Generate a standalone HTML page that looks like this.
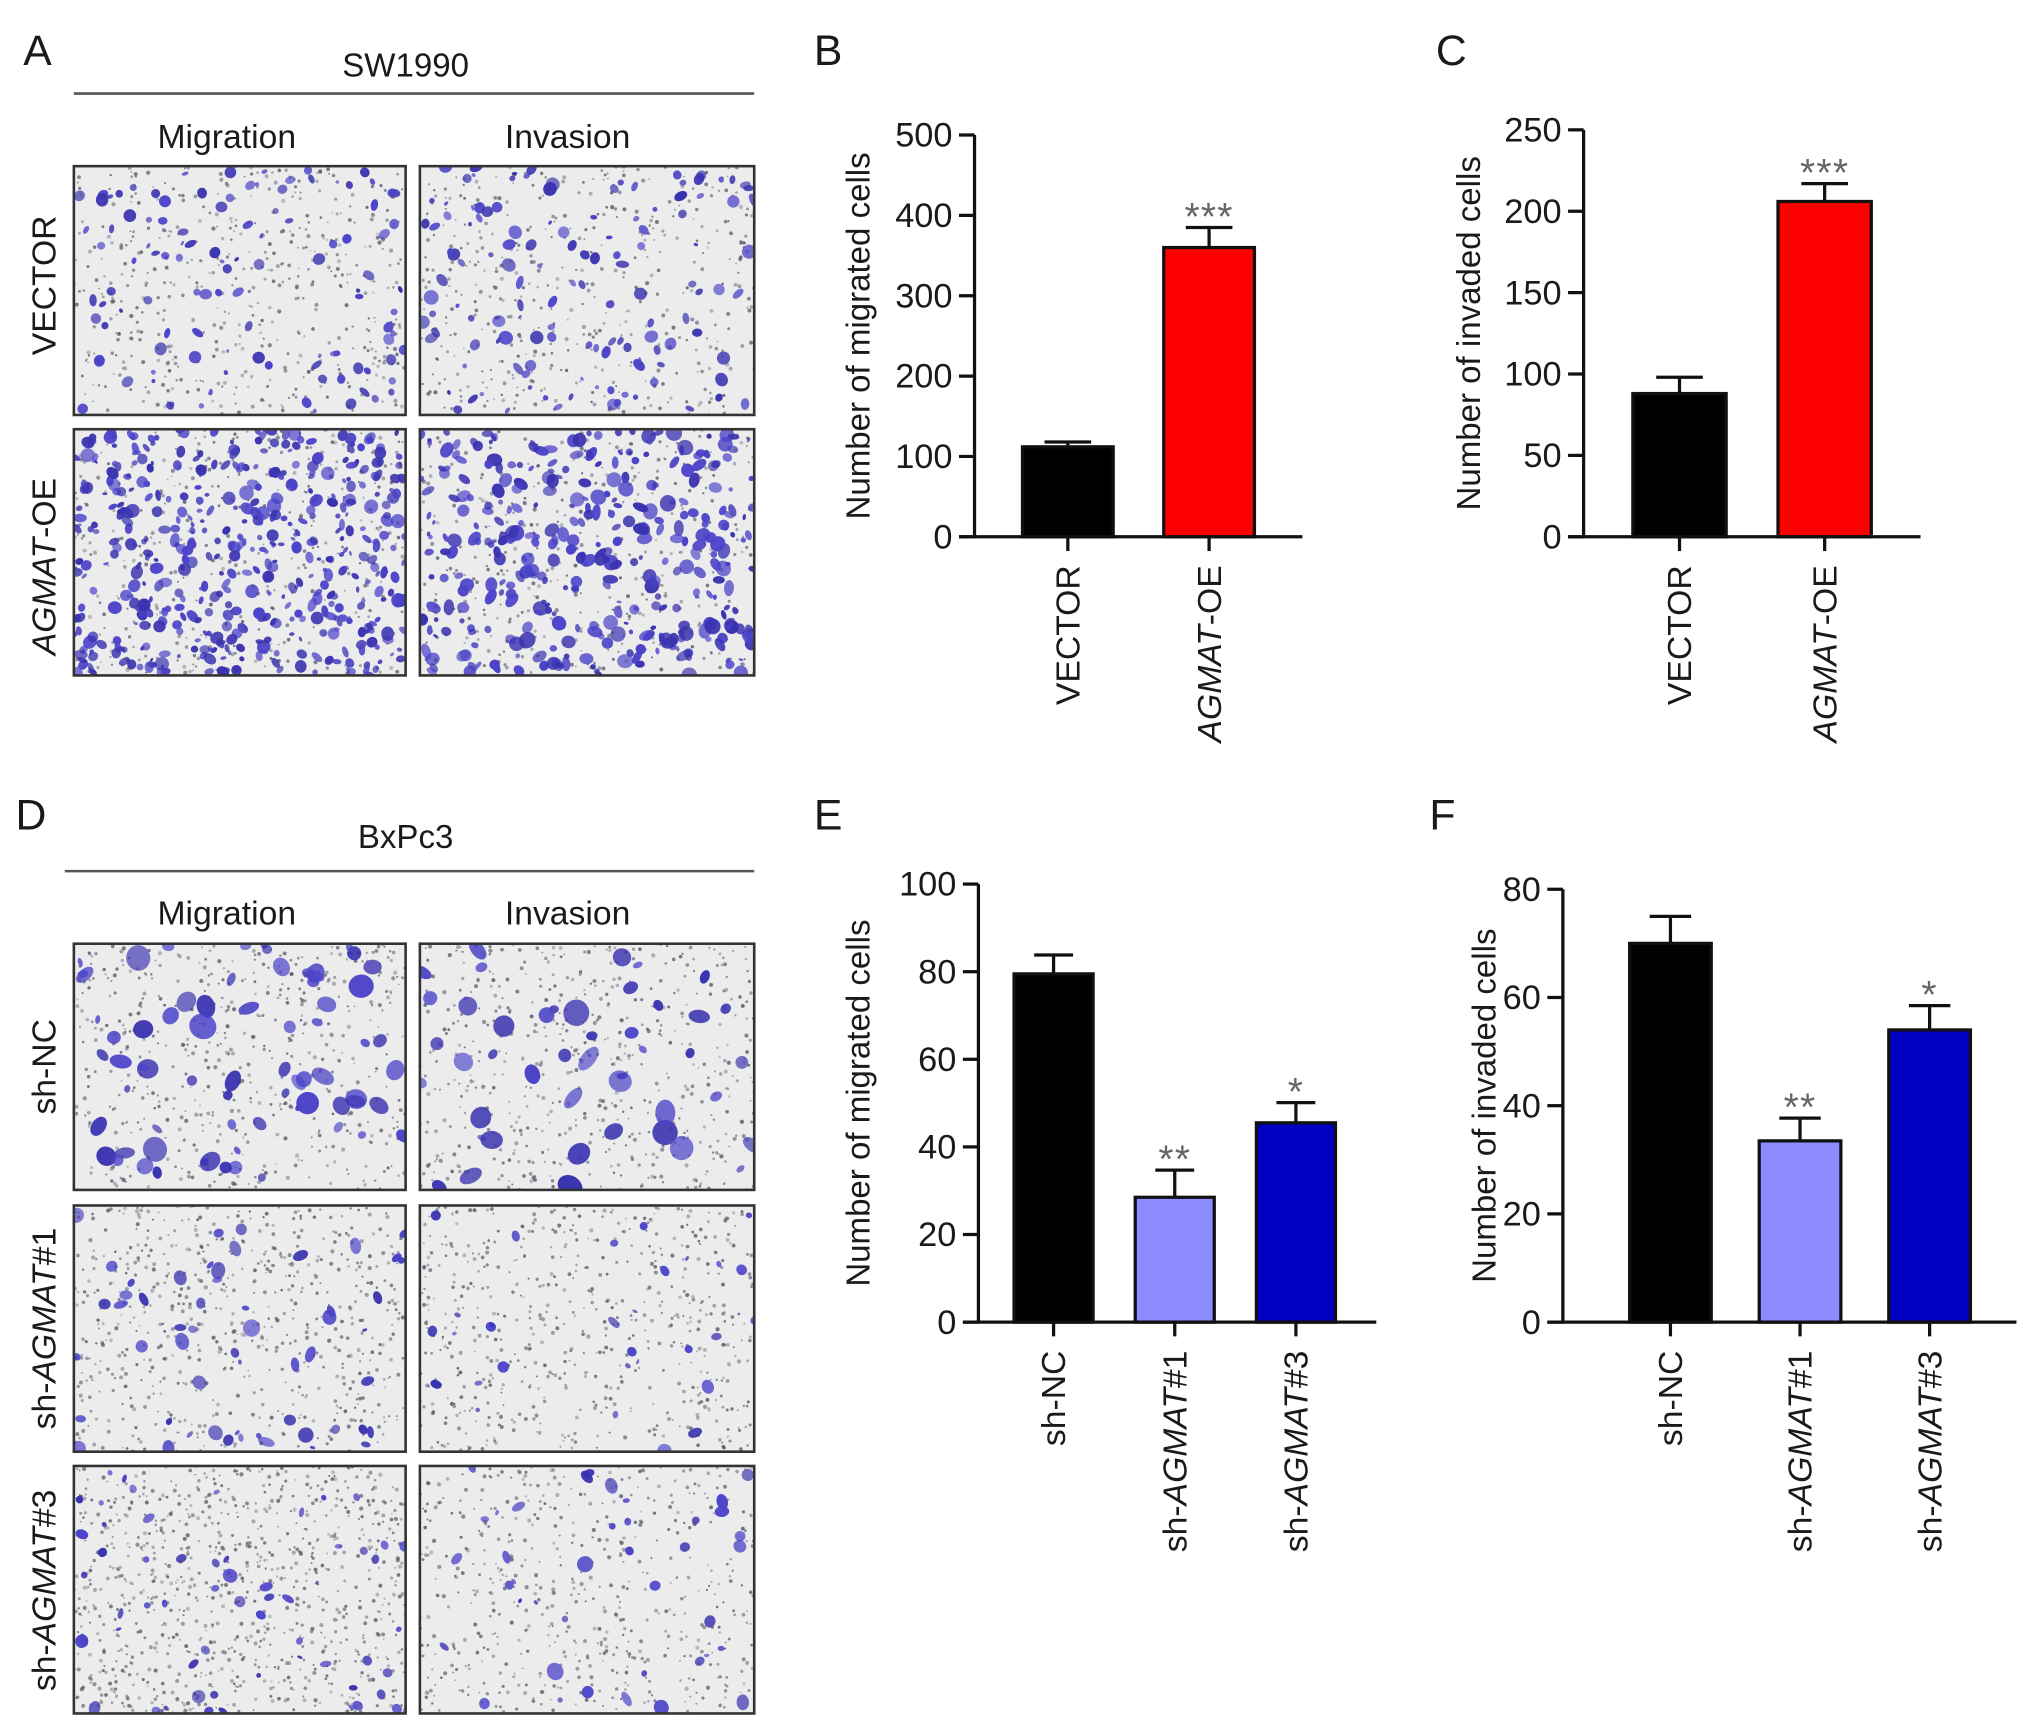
<!DOCTYPE html>
<html><head><meta charset="utf-8"><style>
html,body{margin:0;padding:0;background:#fff}
svg{display:block}
text{font-family:"Liberation Sans",Arial,sans-serif;fill:#1a1a1a}
</style></head><body>
<svg id="fig" width="2032" height="1728" viewBox="0 0 1568 1333" xmlns="http://www.w3.org/2000/svg">
<rect width="1568" height="1333" fill="#fff"/>
<g>
<text x="18" y="50" font-size="33">A</text>
<text x="313" y="59" font-size="25.5" text-anchor="middle">SW1990</text>
<line x1="57" y1="72" x2="582" y2="72" stroke="#555" stroke-width="2"/>
<text x="175" y="114" font-size="26" text-anchor="middle">Migration</text>
<text x="438" y="114" font-size="26" text-anchor="middle">Invasion</text>
<text transform="translate(43,220) rotate(-90)" font-size="26" text-anchor="middle">VECTOR</text>
<text transform="translate(43,437) rotate(-90)" font-size="26" text-anchor="middle"><tspan font-style="italic">AGMAT</tspan>-OE</text>
</g>
<g>
<text x="12" y="640" font-size="33">D</text>
<text x="313" y="654" font-size="25.5" text-anchor="middle">BxPc3</text>
<line x1="50" y1="672" x2="582" y2="672" stroke="#555" stroke-width="2"/>
<text x="175" y="713" font-size="26" text-anchor="middle">Migration</text>
<text x="438" y="713" font-size="26" text-anchor="middle">Invasion</text>
<text transform="translate(43,823) rotate(-90)" font-size="26" text-anchor="middle">sh-NC</text>
<text transform="translate(43,1025) rotate(-90)" font-size="26" text-anchor="middle">sh-<tspan font-style="italic">AGMAT</tspan>#1</text>
<text transform="translate(43,1227) rotate(-90)" font-size="26" text-anchor="middle">sh-<tspan font-style="italic">AGMAT</tspan>#3</text>
</g>
<g id="micro"></g>
<g id="charts"></g>
</svg>
<script>
// ----- chart data -----
const catsB = ["VECTOR", "AGMAT-OE"];
const valsB = [112, 360];
const errsB = [6, 25];
const sigB = ["", "***"];
const ticksB = [0, 100, 200, 300, 400, 500];

const catsC = ["VECTOR", "AGMAT-OE"];
const valsC = [88, 206];
const errsC = [10, 11];
const sigC = ["", "***"];
const ticksC = [0, 50, 100, 150, 200, 250];

const catsE = ["sh-NC", "sh-AGMAT#1", "sh-AGMAT#3"];
const valsE = [79.5, 28.5, 45.5];
const errsE = [4.3, 6.2, 4.6];
const sigE = ["", "**", "*"];
const ticksE = [0, 20, 40, 60, 80, 100];

const catsF = ["sh-NC", "sh-AGMAT#1", "sh-AGMAT#3"];
const valsF = [70, 33.5, 54];
const errsF = [5, 4.2, 4.5];
const sigF = ["", "**", "*"];
const ticksF = [0, 20, 40, 60, 80];

const NS = "http://www.w3.org/2000/svg";
function mk(tag, attrs, parent) {
  const e = document.createElementNS(NS, tag);
  for (const k in attrs) e.setAttribute(k, attrs[k]);
  parent.appendChild(e);
  return e;
}
function labelContent(t, name) {
  const parts = name.split("AGMAT");
  t.appendChild(document.createTextNode(parts[0]));
  if (parts.length > 1) {
    const ts = document.createElementNS(NS, "tspan");
    ts.setAttribute("font-style", "italic");
    ts.textContent = "AGMAT";
    t.appendChild(ts);
    t.appendChild(document.createTextNode(parts[1]));
  }
}

function drawChart(cfg) {
  const root = document.getElementById("charts");
  const g = mk("g", {}, root);
  
  
  const ymax = cfg.ticks[cfg.ticks.length - 1];
  const y = v => cfg.y0 - (v / ymax) * (cfg.y0 - cfg.yTop);
  const pl = mk("text", {x: cfg.labelX, y: cfg.labelY, "font-size": 33}, g);
  pl.textContent = cfg.letter;
  
  
  const yt = mk("text", {transform: `translate(${cfg.titleX},${(cfg.y0 + cfg.yTop) / 2}) rotate(-90)`, "font-size": 25.5, "text-anchor": "middle"}, g);
  yt.textContent = cfg.title;
  
  
  cfg.cats.forEach((c, i) => {
    const cx = cfg.centers0 + i * cfg.step;
    const top = y(cfg.vals[i]);
    const et = y(cfg.vals[i] + cfg.errs[i]);
    const eb = mk("line", {x1: cx, y1: top, x2: cx, y2: et, stroke: "#111", "stroke-width": 2.5}, g);
    
    
    const ec = mk("line", {x1: cx - cfg.capW, y1: et, x2: cx + cfg.capW, y2: et, stroke: "#111", "stroke-width": 2.5}, g);
    
    
    const r = mk("rect", {x: cx - cfg.barW / 2, y: top, width: cfg.barW, height: cfg.y0 - top, fill: cfg.colors[i], stroke: "#111", "stroke-width": 2.5}, g);
    
    
    if (cfg.sig[i]) {
      const s = mk("text", {x: cx, y: et + 2, "font-size": 30, "text-anchor": "middle", style: "fill:#666;letter-spacing:1px"}, g);
      s.textContent = cfg.sig[i];
      
      
    }
    const xt = mk("line", {x1: cx, y1: cfg.y0, x2: cx, y2: cfg.y0 + 11, stroke: "#111", "stroke-width": 2.5}, g);
    
    
    const lb = mk("text", {transform: `translate(${cx + 9},${cfg.y0 + 22}) rotate(-90)`, "font-size": 26, "text-anchor": "end"}, g);
    labelContent(lb, c);
    
    
  });
  const ya = mk("line", {x1: cfg.axX, y1: cfg.yTop, x2: cfg.axX, y2: cfg.y0, stroke: "#111", "stroke-width": 2.5}, g);
  
  
  const xa = mk("line", {x1: cfg.axX - 12, y1: cfg.y0, x2: cfg.xEnd, y2: cfg.y0, stroke: "#111", "stroke-width": 2.5}, g);
  
  
  cfg.ticks.forEach(t => {
    const yy = y(t);
    const tk = mk("line", {x1: cfg.axX - 12, y1: yy, x2: cfg.axX, y2: yy, stroke: "#111", "stroke-width": 2.5}, g);
    
    
    const tl = mk("text", {x: cfg.axX - 17, y: yy + 9, "font-size": 26.5, "text-anchor": "end"}, g);
    tl.textContent = t;
    
    
  });
}

drawChart({name: "chart-b-migration-sw1990", letter: "B", labelX: 628, labelY: 50, title: "Number of migrated cells", titleX: 671,
  cats: catsB, vals: valsB, errs: errsB, sig: sigB, ticks: ticksB, axX: 752, yTop: 104, y0: 414, xEnd: 1005,
  centers0: 824, step: 109, barW: 70, capW: 18, colors: ["#000", "#ff0000"]});
drawChart({name: "chart-c-invasion-sw1990", letter: "C", labelX: 1108, labelY: 50, title: "Number of invaded cells", titleX: 1142,
  cats: catsC, vals: valsC, errs: errsC, sig: sigC, ticks: ticksC, axX: 1222, yTop: 100, y0: 414, xEnd: 1482,
  centers0: 1296, step: 112, barW: 72, capW: 18, colors: ["#000", "#ff0000"]});
drawChart({name: "chart-e-migration-bxpc3", letter: "E", labelX: 628, labelY: 640, title: "Number of migrated cells", titleX: 671,
  cats: catsE, vals: valsE, errs: errsE, sig: sigE, ticks: ticksE, axX: 755, yTop: 682, y0: 1020, xEnd: 1062,
  centers0: 813, step: 93.5, barW: 61, capW: 15, colors: ["#000", "#8c8cff", "#0000c0"]});
drawChart({name: "chart-f-invasion-bxpc3", letter: "F", labelX: 1103, labelY: 640, title: "Number of invaded cells", titleX: 1154,
  cats: catsF, vals: valsF, errs: errsF, sig: sigF, ticks: ticksF, axX: 1206, yTop: 686, y0: 1020, xEnd: 1556,
  centers0: 1289, step: 100, barW: 63, capW: 16, colors: ["#000", "#8c8cff", "#0000c0"]});

// ----- micrograph textures (decorative) -----
let seed = 12345;
function rnd() { seed = (seed * 1103515245 + 12345) % 2147483648; return seed / 2147483648; }
const micro = document.getElementById("micro");
function panel(name, x, y, w, h, blobs, blobSize, dots) {
  const g = mk("g", {}, micro);
  
  
  const cid = "clip-" + name;
  const cp = mk("clipPath", {id: cid}, g);
  mk("rect", {x: x, y: y, width: w, height: h}, cp);
  const inner = mk("g", {"clip-path": `url(#${cid})`}, g);
  mk("rect", {x: x, y: y, width: w, height: h, fill: "#ececec"}, inner);
  for (let i = 0; i < dots; i++) {
    mk("circle", {cx: (x + rnd() * w).toFixed(1), cy: (y + rnd() * h).toFixed(1), r: (0.7 + rnd() * 0.9).toFixed(1), fill: "#5a5a6a", opacity: (0.35 + rnd() * 0.5).toFixed(2)}, inner);
  }
  for (let i = 0; i < blobs; i++) {
    const bx = x + rnd() * w, by = y + rnd() * h, s = blobSize * (0.4 + rnd());
    mk("ellipse", {cx: bx.toFixed(1), cy: by.toFixed(1), rx: s.toFixed(1), ry: (s * (0.5 + rnd() * 0.6)).toFixed(1), transform: `rotate(${Math.floor(rnd() * 180)} ${bx.toFixed(1)} ${by.toFixed(1)})`, fill: rnd() < 0.5 ? "#4b43c8" : "#3a33b0", opacity: (0.65 + rnd() * 0.35).toFixed(2)}, inner);
  }
  mk("rect", {x: x, y: y, width: w, height: h, fill: "none", stroke: "#333", "stroke-width": 2}, g);
}
panel("micrograph-vector-migration", 57, 128, 256, 192, 110, 3.5, 500);
panel("micrograph-vector-invasion", 324, 128, 258, 192, 130, 4, 450);
panel("micrograph-agmat-oe-migration", 57, 331, 256, 190, 480, 4, 400);
panel("micrograph-agmat-oe-invasion", 324, 331, 258, 190, 360, 4.5, 400);
panel("micrograph-sh-nc-migration", 57, 728, 256, 190, 70, 7, 550);
panel("micrograph-sh-nc-invasion", 324, 728, 258, 190, 45, 8, 550);
panel("micrograph-sh-agmat1-migration", 57, 930, 256, 190, 55, 5, 650);
panel("micrograph-sh-agmat1-invasion", 324, 930, 258, 190, 30, 4, 600);
panel("micrograph-sh-agmat3-migration", 57, 1131, 256, 191, 60, 4, 900);
panel("micrograph-sh-agmat3-invasion", 324, 1131, 258, 191, 40, 4.5, 550);
</script>
</body></html>
